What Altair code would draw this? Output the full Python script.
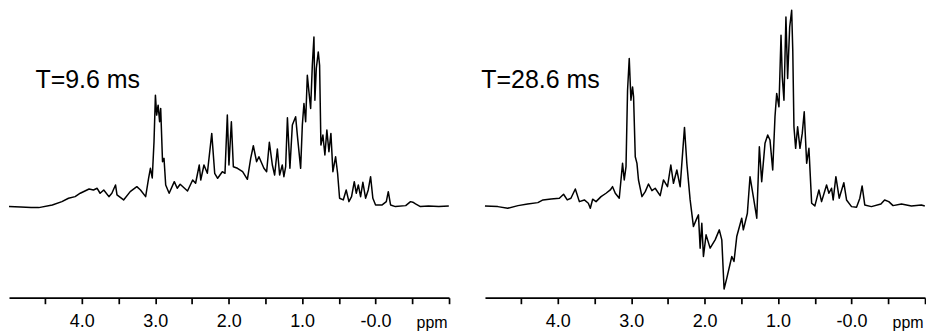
import altair as alt
import pandas as pd

# ---- left spectrum, T = 9.6 ms (ppm, intensity in arbitrary units) ----
left_ppm = [4.99, 4.83, 4.69, 4.585, 4.40, 4.27, 4.18, 4.09, 4.02, 3.90, 3.84, 3.79, 3.75, 3.70,
            3.63, 3.59, 3.54, 3.52, 3.43, 3.34, 3.25, 3.20, 3.13, 3.09, 3.065, 3.04, 3.016, 2.997,
            2.98, 2.96, 2.94, 2.925, 2.90, 2.88, 2.857, 2.81, 2.74, 2.70, 2.66, 2.56, 2.49, 2.45,
            2.40, 2.38, 2.336, 2.29, 2.23, 2.19, 2.15, 2.086, 2.05, 2.018, 1.996, 1.963, 1.936,
            1.88, 1.81, 1.745, 1.70, 1.664, 1.62, 1.588, 1.52, 1.483, 1.446, 1.405, 1.374, 1.337,
            1.306, 1.27, 1.248, 1.224, 1.20, 1.166, 1.133, 1.088, 1.065, 1.02, 0.997, 0.975, 0.952,
            0.929, 0.907, 0.884, 0.861, 0.839, 0.826, 0.807, 0.78, 0.762, 0.744, 0.717, 0.69,
            0.663, 0.635, 0.608, 0.581, 0.544, 0.517, 0.49, 0.44, 0.40, 0.363, 0.327, 0.29, 0.263,
            0.235, 0.204, 0.173, 0.136, 0.10, 0.068, 0.037, 0.0, -0.09, -0.146, -0.173, -0.204,
            -0.27, -0.41, -0.476, -0.507, -0.544, -0.61, -0.72, -0.86, -0.997]
left_int = [-0.5, -1, -1.5, -1.7, 1, 4.3, 7.7, 9.3, 12.7, 17, 16, 17.7, 12.7, 16,
            9.3, 12.7, 21, 11, 6, 14.3, 19.3, 16, 9.3, 27.7, 37.7, 28, 64.3, 111,
            91, 101, 84.3, 97.7, 44.3, 47.7, 21, 12.7, 24.3, 17.7, 21.7, 15, 26, 22.7,
            41, 26, 41, 32.7, 72.7, 32.7, 27.7, 34.3, 32.7, 91, 41, 84.3, 39.3,
            37.7, 34.3, 26.7, 47.7, 60.3, 44.3, 49.3, 37.7, 34.3, 63.7, 41, 31, 57,
            31, 41, 29.3, 39.3, 88.3, 37.7, 81, 89.3, 71, 37.7, 81, 102.7, 84.3,
            131, 114.3, 97.7, 141, 169.3, 106, 137.7, 154.3, 141, 61, 71, 51,
            76, 54.3, 72.7, 34.3, 49.3, 32.7, 7.7, 6, 16, 4.3, 9.3, 24.3, 12.7,
            21, 9.3, 23.7, 7.7, 16, 29.3, 7.7, 1, 1, 4.3, 14.3, 1,
            -0.7, 0.3, 4.3, 3.7, 2, -0.7, 0, -0.7, 0]

# ---- right spectrum, T = 28.6 ms ----
right_ppm = [4.99, 4.815, 4.68, 4.54, 4.41, 4.27, 4.20, 4.09, 3.977, 3.92, 3.87, 3.82, 3.76,
             3.705, 3.637, 3.583, 3.556, 3.524, 3.478, 3.41, 3.342, 3.284, 3.253, 3.216, 3.162,
             3.117, 3.094, 3.07, 3.049, 3.026, 3.003, 2.981, 2.967, 2.944, 2.921, 2.90, 2.853,
             2.808, 2.764, 2.717, 2.673, 2.605, 2.56, 2.505, 2.46, 2.424, 2.378, 2.333, 2.274,
             2.242, 2.197, 2.152, 2.115, 2.084, 2.061, 2.038, 2.016, 1.98, 1.925, 1.857, 1.80,
             1.766, 1.735, 1.698, 1.63, 1.60, 1.5625, 1.495, 1.473, 1.418, 1.382, 1.337, 1.29,
             1.255, 1.223, 1.178, 1.141, 1.11, 1.073, 1.042, 1.019, 0.988, 0.96, 0.943, 0.92,
             0.893, 0.87, 0.842, 0.815, 0.80, 0.784, 0.761, 0.734, 0.702, 0.671, 0.644, 0.611,
             0.58, 0.543, 0.499, 0.444, 0.408, 0.34, 0.308, 0.272, 0.25, 0.213, 0.168, 0.105,
             0.068, 0.0, -0.068, -0.113, -0.144, -0.18, -0.27, -0.40, -0.45, -0.507, -0.565,
             -0.68, -0.815, -0.95, -0.997]
right_int = [0, -0.7, -2.3, 0.3, 2, 3.3, 6, 7, 7.7, 11.7, 6, 7.7, 17,
             4.3, 6, 2.7, -2.3, 6.7, 4.3, 9.3, 12.7, 16, 19.3, 12.7, 7.7,
             42.7, 26, 39.3, 116, 147.7, 106, 119.3, 109.3, 49.3, 42.7, 26, 9.3,
             14.3, 22, 15.3, 17.7, 10.3, 26, 19.3, 41, 22.7, 36, 19.3, 78.7,
             42.7, 6, -20.7, -14, -9, -42.3, -17.3, -50.7, -29, -42.3, -34, -24,
             -34, -83.3, -72.3, -50.7, -55.7, -30.7, -12.3, -24, -7.3, 29.3, 9.3, -12.3,
             59.3, 24.3, 62.7, 71, 66, 36, 89.3, 112.7, 99.3, 171, 129.3, 106,
             189.3, 127.7, 179.3, 196, 156, 79.3, 57.7, 79.3, 57.7, 72.7, 94.3, 42.7,
             57.7, 2.7, 0, 16, 4.3, 21, 12.7, 17.7, 6, 29.3, 7.7, 23.3,
             6, -0.7, -1.3, 7.7, 20, 1, -0.7, 2, 6, 4.3, 0.3,
             2, 0, 1, 0]

panel_labels = ["T=9.6 ms", "T=28.6 ms"]
label_ppm = [4.63, 5.04]
label_int = [118, 118]

tick_values = [4.5, 4.0, 3.5, 3.0, 2.5, 2.0, 1.5, 1.0, 0.5, 0.0, -0.5, -1.0]
x_domain = [-1.0, 4.99]
y_domain = [-92, 198]

FONT = "Liberation Sans"
W, H = 441, 290


def panel(ppm, inten, label, lppm, lint):
    df = pd.DataFrame({"ppm": ppm, "I": inten, "idx": range(len(ppm))})
    x = alt.X(
        "ppm:Q",
        scale=alt.Scale(domain=x_domain, reverse=True, nice=False, zero=False),
        axis=alt.Axis(
            values=tick_values,
            labelExpr="(datum.value % 1 == 0 && datum.value >= 0) ? (datum.value == 0 ? '-0.0' : format(datum.value, '.1f')) : ''",
            grid=False,
            domainColor="black",
            domainWidth=1.7,
            tickColor="black",
            tickWidth=1.7,
            tickSize=6,
            labelFont=FONT,
            labelFontSize=18,
            labelColor="black",
            labelBaseline="alphabetic",
            labelPadding=23,
            labelOverlap=False,
            labelFlush=False,
            title="ppm",
            titleFont=FONT,
            titleFontSize=16,
            titleFontWeight="normal",
            titleColor="black",
            titleAlign="left",
            titleBaseline="alphabetic",
            titleX=408,
            titleY=30,
        ),
    )
    y = alt.Y("I:Q", scale=alt.Scale(domain=y_domain, nice=False, zero=False), axis=None)
    line = alt.Chart(df).mark_line(color="black", strokeWidth=1.5, strokeJoin="round").encode(
        x=x, y=y, order="idx:Q"
    )
    tdf = pd.DataFrame({"ppm": [lppm], "I": [lint], "label": [label]})
    text = alt.Chart(tdf).mark_text(
        font=FONT, fontSize=25, align="left", baseline="alphabetic", color="black"
    ).encode(
        x=alt.X("ppm:Q"),
        y=alt.Y("I:Q"),
        text="label:N",
    )
    return alt.layer(line, text).properties(width=W, height=H)


left = panel(left_ppm, left_int, panel_labels[0], label_ppm[0], label_int[0])
right = panel(right_ppm, right_int, panel_labels[1], label_ppm[1], label_int[1])

chart = (
    alt.hconcat(left, right, spacing=36, bounds="flush")
    .properties(padding=0, background="white")
    .configure_view(stroke=None)
)

chart.save("out.html", embed_options={"renderer": "svg", "actions": False})
